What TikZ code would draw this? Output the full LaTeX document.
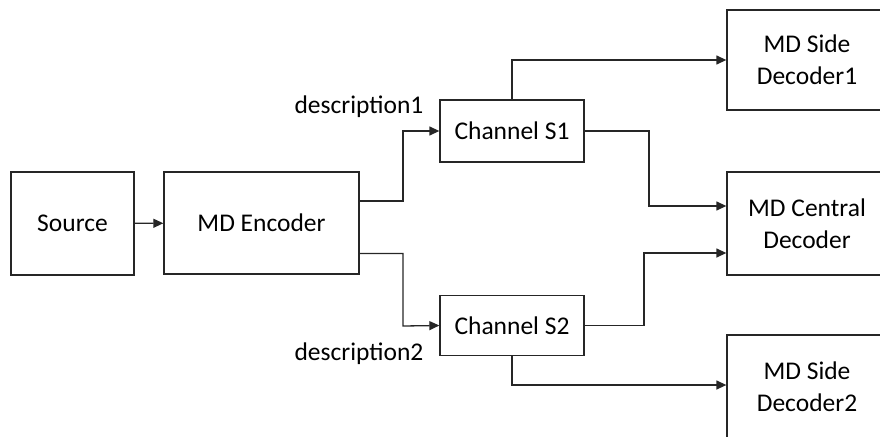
\documentclass[tikz,border=0pt]{standalone}
\usepackage{fontspec}
\setmainfont{Carlito}
\usetikzlibrary{arrows.meta}

\begin{document}
\begin{tikzpicture}[x=1pt, y=-1pt, >={Triangle[length=10pt,width=9pt]},
    block/.style={draw=black!85, line width=1.3pt, align=center, inner sep=0pt,
        font=\fontsize{25.5}{32}\selectfont},
    wire/.style={draw=black!85, line width=1.3pt},
    tag/.style={font=\fontsize{25.5}{32}\selectfont}]
    \useasboundingbox (0,0) rectangle (880,436);

    % blocks
    \node[block, minimum width=123pt, minimum height=103pt] (src) at (72.5,223.5) {Source};
    \node[block, minimum width=195pt, minimum height=102pt] (enc) at (261.5,223) {MD Encoder};
    \node[block, minimum width=144pt, minimum height=62pt] (ch1) at (512,131) {Channel S1};
    \node[block, minimum width=144pt, minimum height=60pt] (ch2) at (512,325.5) {Channel S2};
    \node[block, minimum width=160pt, minimum height=100pt] (side1) at (807,60) {MD Side\\Decoder1};
    \node[block, minimum width=160pt, minimum height=103pt] (cen) at (807,223.5) {MD Central\\Decoder};
    \node[block, minimum width=160pt, minimum height=104pt] (side2) at (807,387) {MD Side\\Decoder2};

    \node[tag] (d1) at (359,107) {description1};
    \node[tag] (d2) at (359,354) {description2};

    % connectors
    \draw[wire, ->] (src) -- (enc);
    \draw[wire, ->] (enc.east |- 0,201) -| (403,131) -- (ch1.west);
    \draw[wire, ->] (enc.east |- 0,253.5) -| (403,326) -- (ch2.west);
    \draw[wire, ->] (ch1.north) |- (side1.west);
    \draw[wire, ->] (ch1.east) -| (649,206) -- (cen.west |- 0,206);
    \draw[wire, ->] (ch2.east) -| (644,253) -- (cen.west |- 0,253);
    \draw[wire, ->] (ch2.south) |- (side2.west |- 0,385);
\end{tikzpicture}
\end{document}
